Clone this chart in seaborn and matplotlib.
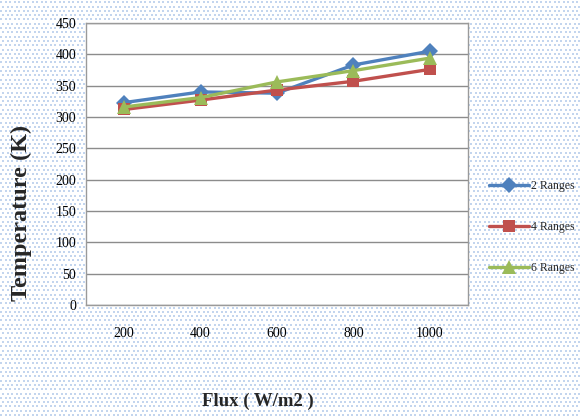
import numpy as np
import pandas as pd
import matplotlib
matplotlib.use("Agg")
import matplotlib.pyplot as plt
import seaborn as sns

flux = [200, 400, 600, 800, 1000]
ranges2 = [323, 340, 338, 383, 405]
ranges4 = [312, 327, 343, 357, 376]
ranges6 = [316, 331, 356, 374, 394]
series_names = ["2 Ranges", "4 Ranges", "6 Ranges"]
y_ticks = [0, 50, 100, 150, 200, 250, 300, 350, 400, 450]

df = pd.concat([
    pd.DataFrame({"Flux": flux, "T": ranges2, "Series": series_names[0]}),
    pd.DataFrame({"Flux": flux, "T": ranges4, "Series": series_names[1]}),
    pd.DataFrame({"Flux": flux, "T": ranges6, "Series": series_names[2]}),
])

sns.set_style("white")
plt.rcParams["font.family"] = ["Liberation Serif", "DejaVu Serif"]

W, H = 580, 417
fig = plt.figure(figsize=(5.8, 4.17), dpi=100)
fig.patch.set_facecolor("white")

# dotted background pattern
bg = fig.add_axes([0, 0, 1, 1], zorder=-5)
bg.set_xlim(0, W)
bg.set_ylim(0, H)
bg.axis("off")
ys = np.arange(2, H, 4.3)
pts_x, pts_y = [], []
for i, yy in enumerate(ys):
    xs = np.arange(1 + (2.25 if i % 2 else 0), W, 4.5)
    pts_x.extend(xs)
    pts_y.extend([yy] * len(xs))
bg.scatter(pts_x, pts_y, s=0.9, marker="s", color="#C3D5EE", linewidths=0)

ax = fig.add_axes([86 / W, 1 - 305 / H, (468 - 86) / W, (305 - 23) / H])
ax.set_facecolor("white")

palette = {"2 Ranges": "#4F81BD", "4 Ranges": "#C0504D", "6 Ranges": "#9BBB59"}
markers = {"2 Ranges": "D", "4 Ranges": "s", "6 Ranges": "^"}
sns.lineplot(data=df, x="Flux", y="T", hue="Series", style="Series",
             palette=palette, markers=markers, dashes=False,
             linewidth=2.4, markersize=8, markeredgewidth=0, ax=ax, legend=False)

for line, ms in zip(ax.get_lines(), [8.5, 8, 9.5]):
    line.set_markersize(ms)

ax.set_xlim(100, 1100)
ax.set_ylim(0, 450)
ax.set_xticks(flux)
ax.set_xticklabels([str(f) for f in flux])
ax.set_yticks(y_ticks)
ax.set_yticklabels([str(v) for v in y_ticks])
ax.yaxis.grid(True, color="#8C8C8C", linewidth=1.0)
ax.xaxis.grid(False)
ax.set_axisbelow(True)
for sp in ax.spines.values():
    sp.set_color("#9A9A9A")
    sp.set_linewidth(1.0)
    sp.set_visible(True)
ax.tick_params(axis="both", length=0, labelsize=10, colors="black")
ax.tick_params(axis="x", pad=16)
ax.tick_params(axis="y", pad=7)

ax.set_xlabel("Flux ( W/m2 )", fontsize=13.5, fontweight="bold")
ax.xaxis.set_label_coords((258 - 86) / (468 - 86), (305 - 393) / (305 - 23))
ax.set_ylabel("Temperature (K)", fontsize=17.5, fontweight="bold")
ax.yaxis.set_label_coords((32 - 86) / (468 - 86), (305 - 213) / (305 - 23))

handles = ax.get_lines()[:3]
leg = fig.legend(handles, series_names, loc="center left",
                 bbox_to_anchor=(489 / W, 1 - 227 / H), bbox_transform=fig.transFigure,
                 frameon=False, fontsize=8.5, labelspacing=2.45, handlelength=3.4,
                 handletextpad=0.15, borderpad=0, borderaxespad=0)

fig.savefig("out.png", dpi=100, facecolor=fig.get_facecolor())
